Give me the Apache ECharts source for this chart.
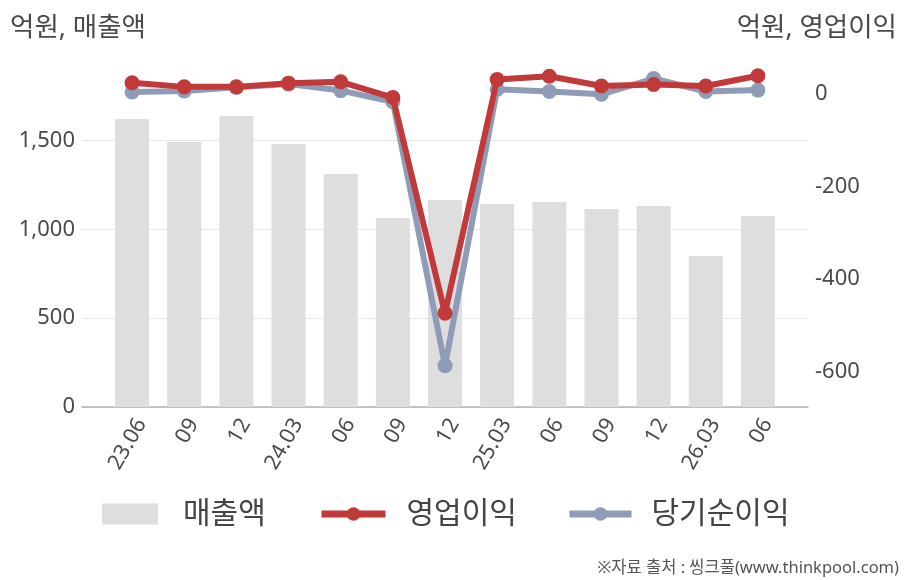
<!DOCTYPE html>
<html>
<head>
<meta charset="utf-8">
<script src="https://cdn.jsdelivr.net/npm/echarts@6.0.0/dist/echarts.min.js"></script>
<style>
  html, body { margin: 0; padding: 0; background: #fff; }
  #chart { width: 908px; height: 580px; }
</style>
</head>
<body>
<div id="chart"></div>
<script>
// 분기 (x축)
const categories = ['23.06', '09', '12', '24.03', '06', '09', '12', '25.03', '06', '09', '12', '26.03', '06'];
// 매출액 (억원, 왼쪽 축)
const sales = [1622, 1492, 1638, 1481, 1312, 1064, 1166, 1143, 1154, 1115, 1132, 850, 1075];
// 영업이익 / 당기순이익 (억원, 오른쪽 축)
const opProfit = [23, 14, 14, 22, 25, -9, -473, 30, 37, 16, 19, 16, 38];
const netProfit = [3, 5, 13, 20, 6, -18, -586, 9, 4, -2, 32, 4, 7];
// 축 범위
const leftMin = 0, leftMax = 1886, leftStep = 500;
const rightMin = -675, rightMax = 46, rightLabelStep = 200;

const FONT = "'Noto Sans', 'Noto Sans CJK KR', sans-serif";
const RED = '#c13a3a';
const BLUE = '#8e9cb8';

let chart = echarts.init(document.getElementById('chart'), null, { width: 908, height: 580 });

chart.setOption({
    animation: false,
    textStyle: { fontFamily: FONT },
    title: [
        { text: '억원, 매출액', left: 5, top: 10, textStyle: { fontSize: 26.5, fontWeight: 'normal', color: '#4a4a4a', fontFamily: FONT } },
        { text: '억원, 영업이익', right: 6, top: 10, textStyle: { fontSize: 26.5, fontWeight: 'normal', color: '#4a4a4a', fontFamily: FONT } },
        { text: '※자료 출처 : 씽크풀(www.thinkpool.com)', right: 4, top: 555, textStyle: { fontSize: 16.5, fontWeight: 'normal', color: '#555', fontFamily: FONT } }
    ],
    // 범례 3개 (아이콘 폭이 다름)
    legend: [
        {
            data: ['매출액'], left: 102, top: 499, padding: 0, icon: 'rect',
            itemWidth: 56, itemHeight: 21,
            textStyle: { fontSize: 30, color: '#444', padding: [0, 0, 0, 20], fontFamily: FONT }
        },
        {
            data: [{ name: '영업이익', lineStyle: { width: 7 } }], left: 318, top: 499, padding: 0,
            itemWidth: 64, itemHeight: 17,
            textStyle: { fontSize: 30, color: '#444', padding: [0, 0, 0, 16], fontFamily: FONT }
        },
        {
            data: [{ name: '당기순이익', lineStyle: { width: 7 } }], left: 566, top: 499, padding: 0,
            itemWidth: 62, itemHeight: 17,
            textStyle: { fontSize: 30, color: '#444', padding: [0, 0, 0, 15], fontFamily: FONT }
        }
    ],
    grid: [
        { left: 82, right: 100, top: 72, bottom: 173 },   // 축선, 격자
        { left: 106, right: 124, top: 72, bottom: 173 }   // 막대, 선
    ],
    xAxis: [
        {
            gridIndex: 0, type: 'category', data: categories,
            axisLine: { lineStyle: { color: '#b4b4b4', width: 1.5 } },
            axisTick: { show: false }, axisLabel: { show: false }, splitLine: { show: false }
        },
        {
            gridIndex: 1, type: 'category', data: categories,
            axisLine: { show: false }, axisTick: { show: false },
            axisLabel: {
                rotate: 60, margin: 8, fontSize: 21.5, color: '#4a4a4a',
                verticalAlign: 'top', interval: 0, fontFamily: FONT
            }
        }
    ],
    yAxis: [
        {
            gridIndex: 0, type: 'value', position: 'left',
            min: leftMin, max: leftMax, interval: leftStep,
            axisLine: { show: false }, axisTick: { show: false },
            axisLabel: { fontSize: 22, color: '#4a4a4a', margin: 7, showMaxLabel: false, fontFamily: FONT },
            splitLine: { showMaxLine: false, lineStyle: { color: '#e6e6e6', width: 1 } }
        },
        {
            gridIndex: 0, type: 'value', position: 'right',
            min: rightMin, max: rightMax, interval: 25,
            axisLine: { show: false }, axisTick: { show: false }, splitLine: { show: false },
            axisLabel: {
                fontSize: 22, color: '#4a4a4a', margin: 7, fontFamily: FONT,
                showMaxLabel: false, showMinLabel: false,
                formatter: (v) => (Math.round(v) % rightLabelStep === 0 ? String(Math.round(v)) : '')
            }
        },
        { gridIndex: 1, type: 'value', min: leftMin, max: leftMax, show: false },
        { gridIndex: 1, type: 'value', min: rightMin, max: rightMax, show: false }
    ],
    series: [
        {
            name: '매출액', type: 'bar', xAxisIndex: 1, yAxisIndex: 2,
            data: sales, barWidth: 34,
            itemStyle: { color: '#dedede' }
        },
        {
            name: '당기순이익', type: 'line', xAxisIndex: 1, yAxisIndex: 3,
            data: netProfit, symbol: 'circle', symbolSize: 15,
            lineStyle: { color: BLUE, width: 6 }, itemStyle: { color: BLUE }, z: 3
        },
        {
            name: '영업이익', type: 'line', xAxisIndex: 1, yAxisIndex: 3,
            data: opProfit, symbol: 'circle', symbolSize: 15,
            lineStyle: { color: RED, width: 6 }, itemStyle: { color: RED }, z: 4
        }
    ]
});
</script>
</body>
</html>
